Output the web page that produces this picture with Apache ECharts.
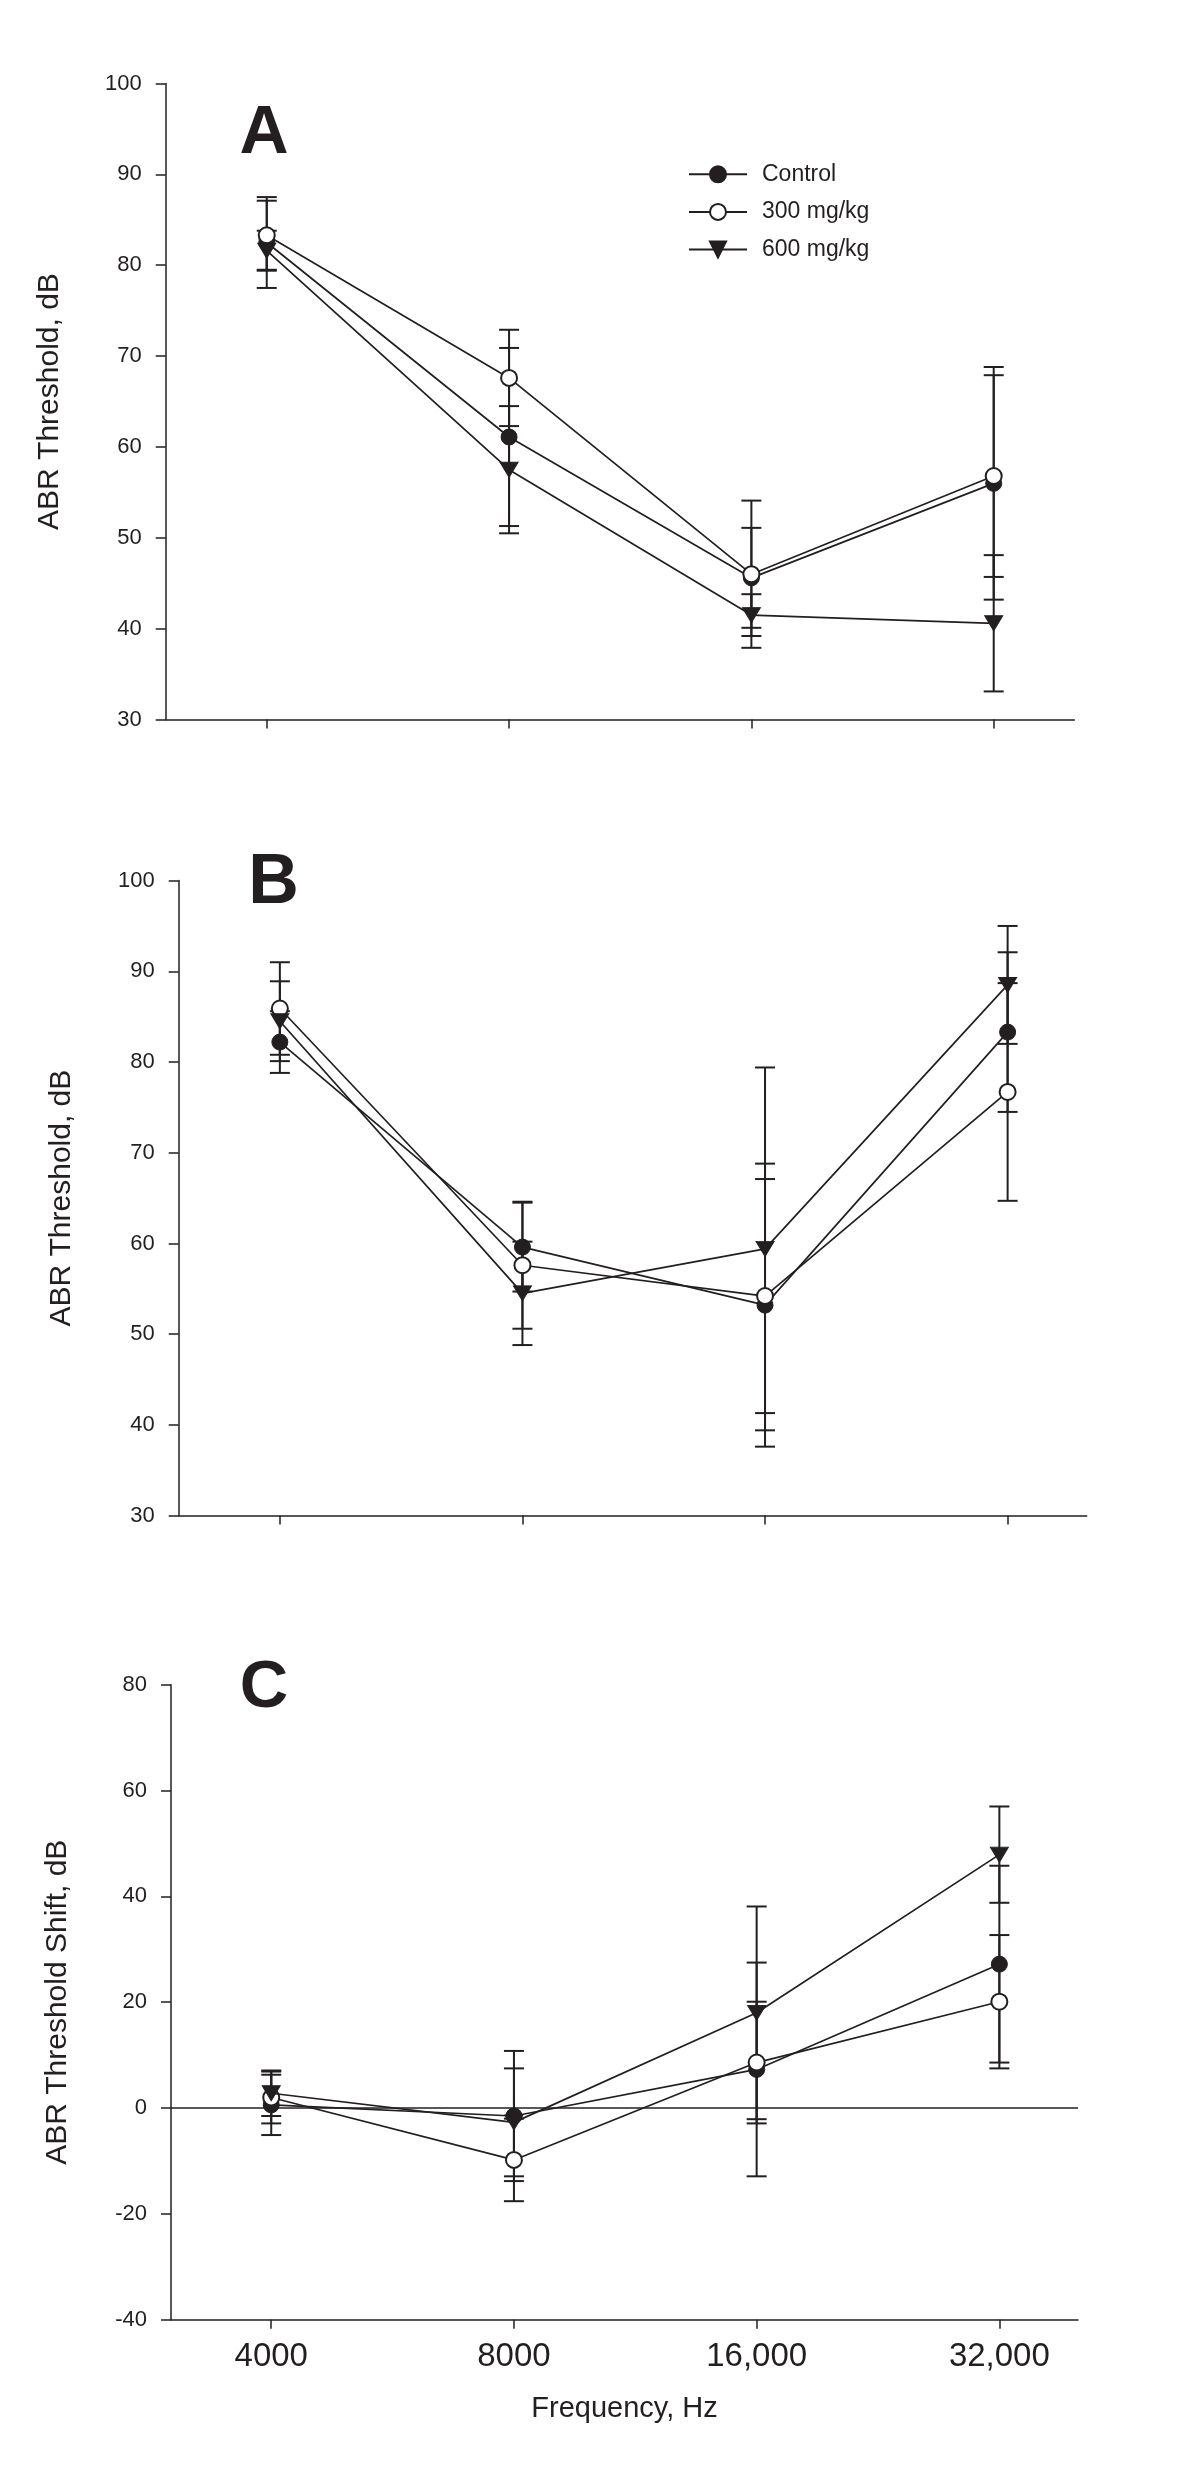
<!DOCTYPE html>
<html>
<head>
<meta charset="utf-8">
<script src="https://cdn.jsdelivr.net/npm/echarts@6/dist/echarts.min.js"></script>
<style>
  html, body { margin: 0; padding: 0; background: #ffffff; }
  #chart { width: 1200px; height: 2466px; }
</style>
</head>
<body>
<div id="chart"></div>
<script>
// ---------- data ----------
const groupNames = ['Control', '300 mg/kg', '600 mg/kg'];
const freqLabels = ['4000', '8000', '16,000', '32,000'];
const freqIndex = [0, 1, 2, 3];

// Panel A: ABR threshold (dB)
const aControl    = [82.5, 61.1, 45.6, 56.0];
const aControlErr = [5.0, 9.8, 5.5, 12.8];
const a300        = [83.3, 67.6, 46.0, 56.8];
const a300Err     = [3.8, 5.3, 8.1, 11.1];
const a600        = [81.6, 57.5, 41.5, 40.6];
const a600Err     = [2.2, 7.0, 2.3, 7.5];

// Panel B: ABR threshold (dB)
const bControl    = [82.2, 59.6, 53.2, 83.3];
const bControlErr = [3.4, 4.9, 15.6, 8.8];
const b300        = [85.9, 57.6, 54.2, 76.7];
const b300Err     = [5.1, 7.0, 12.9, 12.0];
const b600        = [84.5, 54.5, 59.4, 88.5];
const b600Err     = [4.4, 5.7, 20.0, 6.5];

// Panel C: ABR threshold shift (dB)
const cControl    = [0.6, -1.5, 7.3, 27.2];
const cControlErr = [5.7, 12.3, 20.2, 18.6];
const c300        = [2.0, -9.8, 8.6, 20.1];
const c300Err     = [4.9, 7.8, 11.5, 12.6];
const c600        = [2.8, -2.7, 18.0, 47.9];
const c600Err     = [4.3, 10.2, 20.1, 9.1];

const yTicksAB = { min: 30, max: 100, interval: 10 };
const yTicksC  = { min: -40, max: 80, interval: 20 };

// ---------- styling / layout ----------
const INK = '#231f20';
const FONT = '"Liberation Sans", Arial, Helvetica, sans-serif';

const panels = [
  { letter: 'A', letterPos: [264, 134.5], letterSize: 68,
    grid: { left: 165.7, top: 83.5, width: 908.7, height: 636.1 },
    xmin: -0.417, xmax: 3.333, y: yTicksAB,
    yname: 'ABR Threshold, dB', nameGap: 101,
    means: [aControl, a300, a600], errs: [aControlErr, a300Err, a600Err] },
  { letter: 'B', letterPos: [273.6, 884.2], letterSize: 70,
    grid: { left: 178.7, top: 880.6, width: 908, height: 635 },
    xmin: -0.417, xmax: 3.326, y: yTicksAB,
    yname: 'ABR Threshold, dB', nameGap: 102,
    means: [bControl, b300, b600], errs: [bControlErr, b300Err, b600Err] },
  { letter: 'C', letterPos: [264, 1688.7], letterSize: 67,
    grid: { left: 171, top: 1684.8, width: 907, height: 634.9 },
    xmin: -0.413, xmax: 3.324, y: yTicksC,
    yname: 'ABR Threshold Shift, dB', nameGap: 98,
    means: [cControl, c300, c600], errs: [cControlErr, c300Err, c600Err] }
];

const markerStyles = [
  { symbol: 'circle', symbolSize: 16, symbolRotate: 0, itemStyle: { color: INK, borderColor: INK, borderWidth: 1 } },
  { symbol: 'emptyCircle', symbolSize: 16, symbolRotate: 0, itemStyle: { color: INK, borderColor: INK, borderWidth: 1.5 } },
  { symbol: 'triangle', symbolSize: [18, 15], symbolRotate: 180, itemStyle: { color: INK, borderColor: INK, borderWidth: 1 } }
];

function renderErr(params, api) {
  const x = api.value(0), y = api.value(1), e = api.value(2);
  const hi = api.coord([x, y + e]);
  const lo = api.coord([x, y - e]);
  const hw = 10;
  const style = { stroke: INK, lineWidth: 2, fill: null };
  return {
    type: 'group',
    children: [
      { type: 'line', shape: { x1: hi[0], y1: hi[1], x2: lo[0], y2: lo[1] }, style: style },
      { type: 'line', shape: { x1: hi[0] - hw, y1: hi[1], x2: hi[0] + hw, y2: hi[1] }, style: style },
      { type: 'line', shape: { x1: lo[0] - hw, y1: lo[1], x2: lo[0] + hw, y2: lo[1] }, style: style }
    ]
  };
}

const grids = [], xAxes = [], yAxes = [], series = [], graphics = [];

panels.forEach(function (p, i) {
  grids.push(Object.assign({ containLabel: false }, p.grid));
  const isLast = i === panels.length - 1;
  xAxes.push({
    gridIndex: i, type: 'value', min: p.xmin, max: p.xmax, position: 'bottom',
    axisLine: { onZero: false, lineStyle: { color: INK, width: 1.5 } },
    axisTick: { show: true, customValues: freqIndex, length: 9, inside: false, lineStyle: { color: INK, width: 1.5 } },
    axisLabel: { show: isLast, customValues: freqIndex, formatter: function (v) { return freqLabels[Math.round(v)]; },
                 fontSize: 33, color: INK, margin: 21, fontFamily: FONT },
    splitLine: { show: false },
    name: isLast ? 'Frequency, Hz' : '', nameLocation: 'middle', nameGap: 75,
    nameTextStyle: { fontSize: 29, color: INK, fontFamily: FONT }
  });
  yAxes.push({
    gridIndex: i, type: 'value', min: p.y.min, max: p.y.max, interval: p.y.interval,
    axisLine: { show: true, onZero: false, lineStyle: { color: INK, width: 1.5 } },
    axisTick: { show: true, length: 10, inside: false, lineStyle: { color: INK, width: 1.5 } },
    axisLabel: { fontSize: 22, color: INK, margin: 24, fontFamily: FONT },
    splitLine: { show: false },
    name: p.yname, nameLocation: 'middle', nameRotate: 90, nameGap: p.nameGap,
    nameTextStyle: { fontSize: 30, color: INK, fontFamily: FONT }
  });

  // error bars (drawn underneath)
  p.means.forEach(function (m, g) {
    series.push({
      type: 'custom', name: 'err-' + i + '-' + g, xAxisIndex: i, yAxisIndex: i,
      renderItem: renderErr, z: 1, silent: true,
      encode: { x: 0, y: 1 },
      data: freqIndex.map(function (f, k) { return [f, m[k], p.errs[g][k]]; })
    });
  });

  // lines + markers
  p.means.forEach(function (m, g) {
    const ms = markerStyles[g];
    const s = {
      type: 'line', name: groupNames[g], xAxisIndex: i, yAxisIndex: i, z: 3 + g,
      symbol: ms.symbol, symbolSize: ms.symbolSize, symbolRotate: ms.symbolRotate,
      showSymbol: true, showAllSymbol: true,
      lineStyle: { color: INK, width: 1.7 },
      itemStyle: ms.itemStyle,
      emphasis: { disabled: true },
      data: freqIndex.map(function (f, k) { return [f, m[k]]; })
    };
    if (isLast && g === 0) {
      s.markLine = {
        silent: true, symbol: ['none', 'none'], label: { show: false },
        lineStyle: { color: INK, width: 1.5, type: 'solid', opacity: 1 },
        emphasis: { disabled: true },
        data: [{ yAxis: 0 }]
      };
    }
    series.push(s);
  });

  graphics.push({
    type: 'text', x: p.letterPos[0], y: p.letterPos[1],
    style: { text: p.letter, font: 'bold ' + p.letterSize + 'px ' + FONT, fill: INK,
             textAlign: 'center', textVerticalAlign: 'middle' }
  });
});

const chart = echarts.init(document.getElementById('chart'), null, { renderer: 'canvas' });
chart.setOption({
  backgroundColor: '#ffffff',
  animation: false,
  textStyle: { fontFamily: FONT, color: INK },
  grid: grids,
  xAxis: xAxes,
  yAxis: yAxes,
  legend: {
    data: groupNames,
    orient: 'vertical',
    left: 688, top: 162.8, padding: 0,
    itemWidth: 58, itemHeight: 20, itemGap: 14.6,
    selectedMode: false,
    textStyle: { fontSize: 23, color: INK, fontFamily: FONT, lineHeight: 20, padding: [0, 0, 0, 10] }
  },
  graphic: graphics,
  series: series
});
</script>
</body>
</html>
